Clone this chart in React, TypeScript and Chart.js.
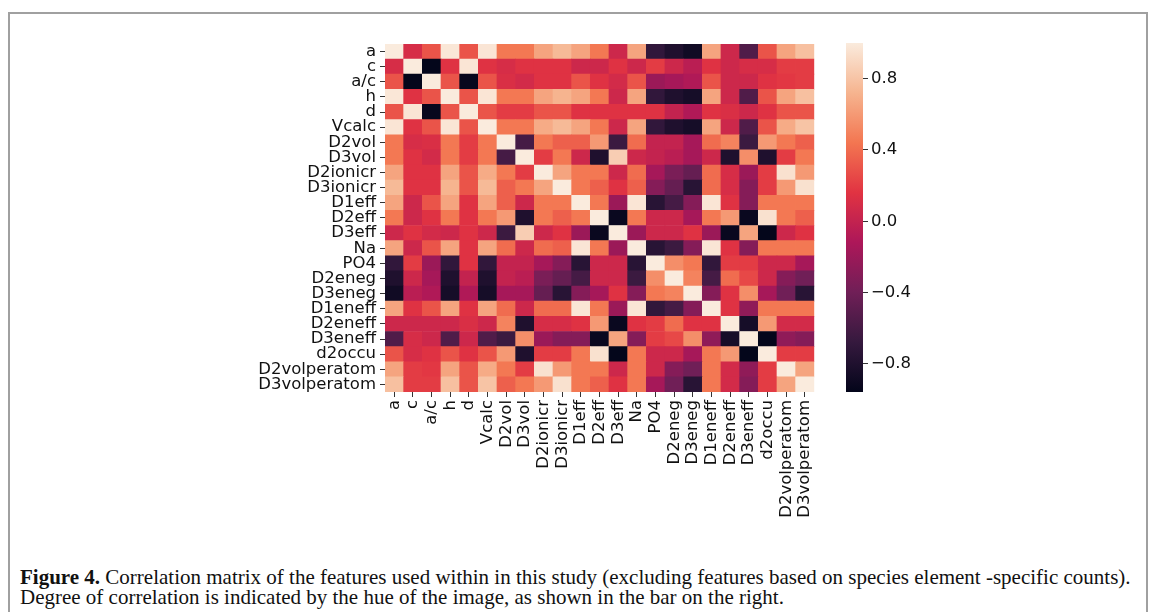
import React, { useEffect, useRef } from 'react';
import { Chart, registerables } from 'chart.js';

Chart.register(...registerables);

const FONT = '"DejaVu Sans", Verdana, sans-serif';

// feature names (row / column order)
const labels = [
  'a', 'c', 'a/c', 'h', 'd', 'Vcalc', 'D2vol', 'D3vol', 'D2ionicr', 'D3ionicr',
  'D1eff', 'D2eff', 'D3eff', 'Na', 'PO4', 'D2eneg', 'D3eneg', 'D1eneff', 'D2eneff',
  'D3eneff', 'd2occu', 'D2volperatom', 'D3volperatom',
];

// upper-triangle correlations: each row lists values for the columns after its diagonal
const corrA = [0.1, 0.3, 0.98, 0.3, 0.97, 0.45, 0.45, 0.65, 0.75, 0.65, 0.45, 0.05, 0.65, -0.7, -0.8, -0.88, 0.65, 0.05, -0.55, 0.3, 0.65, 0.78];
const corrC = [-0.95, 0.15, 0.97, 0.15, 0.1, 0.15, 0.15, 0.15, 0.05, 0.05, 0.15, 0.05, 0.2, 0.05, -0.05, 0.15, 0.05, 0.1, 0.1, 0.2, 0.2];
const corrAc = [0.3, -0.93, 0.3, 0.12, 0.08, 0.15, 0.15, 0.3, 0.15, 0.08, 0.3, -0.2, -0.15, -0.1, 0.3, 0.05, 0.05, 0.15, 0.18, 0.2];
const corrH = [0.3, 0.97, 0.45, 0.45, 0.65, 0.72, 0.65, 0.45, 0.05, 0.65, -0.7, -0.8, -0.85, 0.65, 0.05, -0.55, 0.3, 0.65, 0.78];
const corrD = [0.3, 0.2, 0.2, 0.3, 0.3, 0.15, 0.15, 0.15, 0.15, 0.15, 0.0, -0.1, 0.15, 0.12, 0.05, 0.15, 0.3, 0.3];
const corrVcalc = [0.45, 0.45, 0.68, 0.75, 0.65, 0.45, 0.05, 0.65, -0.7, -0.8, -0.85, 0.65, 0.05, -0.55, 0.3, 0.68, 0.8];
const corrD2vol = [-0.6, 0.45, 0.35, 0.35, 0.6, -0.65, 0.4, 0.0, 0.0, -0.15, 0.4, 0.5, -0.65, 0.6, 0.45, 0.35];
const corrD3vol = [0.2, 0.45, 0.05, -0.8, 0.85, 0.05, 0.0, -0.05, -0.15, 0.05, -0.8, 0.55, -0.8, 0.2, 0.45];
const corrD2ionicr = [0.65, 0.45, 0.45, 0.05, 0.4, -0.15, -0.35, -0.45, 0.4, 0.1, -0.2, 0.2, 0.95, 0.6];
const corrD3ionicr = [0.45, 0.35, 0.15, 0.35, -0.3, -0.45, -0.75, 0.4, 0.1, -0.3, 0.2, 0.6, 0.95];
const corrD1eff = [0.45, -0.2, 0.97, -0.75, -0.6, -0.3, 0.97, 0.15, -0.3, 0.45, 0.45, 0.45];
const corrD2eff = [-0.92, 0.45, 0.05, 0.05, -0.15, 0.45, 0.6, -0.92, 0.95, 0.45, 0.35];
const corrD3eff = [-0.2, 0.05, 0.05, 0.15, -0.2, -0.92, 0.65, -0.95, 0.05, 0.15];
const corrNa = [-0.75, -0.65, -0.3, 0.97, 0.15, -0.3, 0.45, 0.45, 0.45];
const corrPO4 = [0.55, 0.45, -0.7, 0.2, 0.2, 0.05, 0.05, -0.15];
const corrD2eneg = [0.5, -0.6, 0.4, 0.25, 0.05, -0.3, -0.4];
const corrD3eneg = [-0.3, 0.15, 0.55, -0.15, -0.4, -0.75];
const corrD1eneff = [0.15, -0.25, 0.45, 0.45, 0.45];
const corrD2eneff = [-0.85, 0.6, 0.08, 0.08];
const corrD3eneff = [-0.95, -0.25, -0.3];
const corrD2occu = [0.2, 0.2];
const corrD2volperatom = [0.65];
const corrD3volperatom: number[] = [];

const upperRows = [
  corrA, corrC, corrAc, corrH, corrD, corrVcalc, corrD2vol, corrD3vol, corrD2ionicr,
  corrD3ionicr, corrD1eff, corrD2eff, corrD3eff, corrNa, corrPO4, corrD2eneg, corrD3eneg,
  corrD1eneff, corrD2eneff, corrD3eneff, corrD2occu, corrD2volperatom, corrD3volperatom,
];

// colour scale range and colourbar ticks
const vMin = -0.957;
const vMax = 1.0;
const cbTicks = [-0.8, -0.4, 0.0, 0.4, 0.8];

// seaborn "rocket" colormap stops
const rocketStops: [number, string][] = [
  [0, '#03051a'], [1 / 7, '#35193e'], [2 / 7, '#701f57'], [3 / 7, '#ad1759'],
  [4 / 7, '#e13342'], [5 / 7, '#f37651'], [6 / 7, '#f6b48f'], [1, '#faebdd'],
];

function hexToRgb(h: string) {
  return [parseInt(h.slice(1, 3), 16), parseInt(h.slice(3, 5), 16), parseInt(h.slice(5, 7), 16)];
}

function rocket(v: number) {
  let t = (v - vMin) / (vMax - vMin);
  t = Math.max(0, Math.min(1, t));
  for (let i = 0; i < rocketStops.length - 1; i++) {
    const [t0, c0] = rocketStops[i];
    const [t1, c1] = rocketStops[i + 1];
    if (t <= t1) {
      const f = (t - t0) / (t1 - t0);
      const a = hexToRgb(c0);
      const b = hexToRgb(c1);
      const r = a.map((x, k) => Math.round(x + (b[k] - x) * f));
      return `rgb(${r[0]},${r[1]},${r[2]})`;
    }
  }
  return rocketStops[rocketStops.length - 1][1];
}

function buildMatrix() {
  const n = labels.length;
  const m: number[][] = [];
  for (let i = 0; i < n; i++) m.push(new Array(n).fill(1));
  for (let i = 0; i < n; i++) {
    upperRows[i].forEach((v, k) => {
      const j = i + 1 + k;
      m[i][j] = v;
      m[j][i] = v;
    });
  }
  return m;
}

export default function App() {
  const heatRef = useRef<HTMLCanvasElement>(null);
  const barRef = useRef<HTMLCanvasElement>(null);

  useEffect(() => {
    const n = labels.length;
    const matrix = buildMatrix();
    // stacked bars: dataset 0 is the bottom row
    const datasets = [];
    for (let k = 0; k < n; k++) {
      const r = n - 1 - k;
      datasets.push({
        label: labels[r],
        data: new Array(n).fill(1),
        backgroundColor: matrix[r].map((v) => rocket(v)),
        borderWidth: 0,
        barPercentage: 1,
        categoryPercentage: 1,
      });
    }
    const tickFont = { family: FONT, size: 16.5 };
    const gridOpts = { display: true, drawOnChartArea: false, drawTicks: true, tickLength: 5, color: '#333', offset: false };

    const heat = new Chart(heatRef.current as HTMLCanvasElement, {
      type: 'bar',
      data: { labels, datasets },
      options: {
        responsive: false,
        animation: false,
        layout: { padding: { top: 10, right: 10, left: 0, bottom: 0 } },
        plugins: { legend: { display: false }, tooltip: { enabled: false } },
        scales: {
          x: {
            stacked: true,
            offset: true,
            grid: gridOpts,
            border: { display: false },
            ticks: { autoSkip: false, maxRotation: 90, minRotation: 90, color: '#111', font: tickFont, padding: 3 },
            afterFit: (s: any) => { s.height = 150; },
          },
          y: {
            stacked: true,
            min: 0,
            max: n,
            grid: gridOpts,
            border: { display: false },
            ticks: {
              autoSkip: false,
              color: '#111',
              font: tickFont,
              padding: 4,
              callback: (_v: any, i: number) => labels[n - 1 - i],
            },
            afterBuildTicks: (s: any) => { s.ticks = labels.map((_, k) => ({ value: k + 0.5 })); },
            afterFit: (s: any) => { s.width = 135; },
          },
        },
      } as any,
    });

    const bar = new Chart(barRef.current as HTMLCanvasElement, {
      type: 'bar',
      data: {
        labels: [''],
        datasets: [{
          data: [[vMin, vMax]] as any,
          borderWidth: 0,
          barPercentage: 1,
          categoryPercentage: 1,
          backgroundColor: (ctx: any) => {
            const chart = ctx.chart;
            const y = chart.scales.y;
            if (!chart.chartArea || !y) return '#ad1759';
            const g = chart.ctx.createLinearGradient(0, y.getPixelForValue(vMin), 0, y.getPixelForValue(vMax));
            rocketStops.forEach(([t, c]) => g.addColorStop(t, c));
            return g;
          },
        }],
      },
      options: {
        responsive: false,
        animation: false,
        layout: { padding: { top: 10, right: 0, left: 16, bottom: 18 } },
        plugins: { legend: { display: false }, tooltip: { enabled: false } },
        scales: {
          x: { display: false },
          y: {
            position: 'right',
            min: vMin,
            max: vMax,
            grid: { display: true, drawOnChartArea: false, drawTicks: true, tickLength: 5, color: '#333' },
            border: { display: false },
            ticks: {
              autoSkip: false,
              color: '#111',
              font: tickFont,
              padding: 3,
              callback: (v: any) => {
                const s = Number(v).toFixed(1);
                return s.startsWith('-') ? '\u2212' + s.slice(1) : s;
              },
            },
            afterBuildTicks: (s: any) => { s.ticks = cbTicks.map((v) => ({ value: v })); },
            afterFit: (s: any) => { s.width = 67; },
          },
        },
      } as any,
    });

    return () => { heat.destroy(); bar.destroy(); };
  }, []);

  return (
    <div style={{ position: 'absolute', left: 0, top: 0, width: 1153, height: 612, overflow: 'hidden', background: '#fff' }}>
      <div style={{ position: 'absolute', left: 8, top: 12, width: 1140, height: 700, border: '2px solid #a0a0a0', boxSizing: 'border-box' }} />
      <canvas ref={heatRef} width={578} height={512} style={{ position: 'absolute', left: 250, top: 30, width: 578, height: 512 }} />
      <canvas ref={barRef} width={100} height={380} style={{ position: 'absolute', left: 830, top: 30, width: 100, height: 380 }} />
      <div style={{ position: 'absolute', left: 20, top: 567, fontFamily: '"Liberation Serif", "Times New Roman", serif', fontSize: 21, lineHeight: '20px', color: '#111', whiteSpace: 'nowrap' }}>
        <div><b>Figure 4.</b> Correlation matrix of the features used within in this study (excluding features based on species element -specific counts).</div>
        <div>Degree of correlation is indicated by the hue of the image, as shown in the bar on the right.</div>
      </div>
    </div>
  );
}
